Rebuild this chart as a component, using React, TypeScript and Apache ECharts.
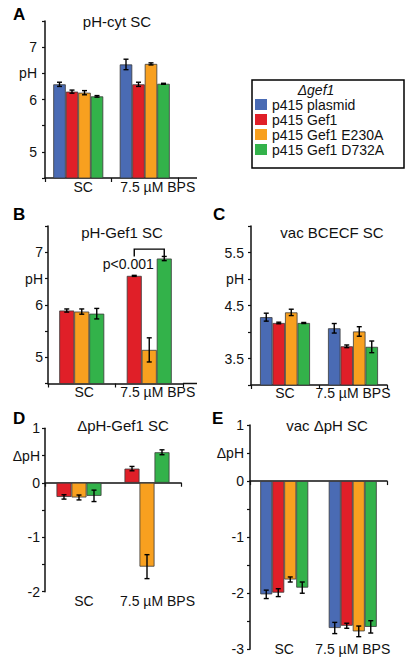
import React, { useEffect, useRef } from 'react';
import * as echarts from 'echarts';

// ---------- data ----------
const categories = ['SC', '7.5 µM BPS'];
const strains = ['p415 plasmid', 'p415 Gef1', 'p415 Gef1 E230A', 'p415 Gef1 D732A'];
const legendTitle = 'Δgef1';

// A: pH-cyt SC
const cytPlasmid = [6.29, 6.67];
const cytPlasmidErr = [0.04, 0.1];
const cytGef1 = [6.15, 6.29];
const cytGef1Err = [0.03, 0.04];
const cytE230A = [6.13, 6.68];
const cytE230AErr = [0.04, 0.02];
const cytD732A = [6.06, 6.3];
const cytD732AErr = [0.015, 0.01];

// B: pH-Gef1 SC
const gefGef1 = [5.89, 6.55];
const gefGef1Err = [0.03, 0.01];
const gefE230A = [5.87, 5.14];
const gefE230AErr = [0.05, 0.23];
const gefD732A = [5.83, 6.88];
const gefD732AErr = [0.1, 0.04];
const sigText = 'p<0.001';
const sigTop = 7.06;
const sigLegBottom = 6.92;
const sigTextLevel = 6.78;

// C: vac BCECF SC
const vacPlasmid = [4.28, 4.07];
const vacPlasmidErr = [0.075, 0.09];
const vacGef1 = [4.17, 3.73];
const vacGef1Err = [0.015, 0.025];
const vacE230A = [4.37, 4.01];
const vacE230AErr = [0.06, 0.09];
const vacD732A = [4.17, 3.72];
const vacD732AErr = [0.01, 0.11];

// D: ΔpH-Gef1 SC
const dGef1 = [-0.26, 0.26];
const dGef1Err = [0.04, 0.04];
const dE230A = [-0.27, -1.54];
const dE230AErr = [0.045, 0.22];
const dD732A = [-0.24, 0.56];
const dD732AErr = [0.105, 0.045];

// E: vac ΔpH SC
const ePlasmid = [-2.02, -2.62];
const ePlasmidErr = [0.075, 0.1];
const eGef1 = [-1.99, -2.58];
const eGef1Err = [0.07, 0.045];
const eE230A = [-1.755, -2.68];
const eE230AErr = [0.045, 0.095];
const eD732A = [-1.9, -2.6];
const eD732AErr = [0.1, 0.11];

// tick labels
const yLabelsA: Record<string, string> = { '5': '5', '6': '6', '7': '7', '6.5': 'pH' };
const yLabelsB: Record<string, string> = { '5': '5', '6': '6', '7': '7', '6.5': 'pH' };
const yLabelsC: Record<string, string> = { '3.5': '3.5', '4.5': '4.5', '5.5': '5.5', '5': 'pH' };
const yLabelsD: Record<string, string> = { '1': '1', '0': '0', '-1': '-1', '-2': '-2', '0.5': 'ΔpH' };
const yLabelsE: Record<string, string> = { '1': '1', '0': '0', '-1': '-1', '-2': '-2', '-3': '-3', '0.5': 'ΔpH' };

const titles = ['pH-cyt SC', 'pH-Gef1 SC', 'vac BCECF SC', 'ΔpH-Gef1 SC', 'vac ΔpH SC'];
const letters = ['A', 'B', 'C', 'D', 'E'];

// ---------- styles / layout ----------
const colors = ['#4a6bb4', '#e01f28', '#f8a01f', '#33b24a'];
const FONT = 'Arial, "Liberation Sans", Helvetica, sans-serif';
const INK = '#111';

const panels = [
  {
    grid: { left: 45, top: 21, width: 133, height: 157 },
    yMin: 4.5, yMax: 7.5, yLabels: yLabelsA, yMargin: 8,
    strainIdx: [0, 1, 2, 3],
    means: [cytPlasmid, cytGef1, cytE230A, cytD732A],
    errs: [cytPlasmidErr, cytGef1Err, cytE230AErr, cytD732AErr],
    barW: 12.5, pad: [10, 26], zero: false, labelMargin: 2, labelVA: 'top',
    extendTo: 197,
    title: [117, 21], letter: [13, 14],
  },
  {
    grid: { left: 48, top: 226, width: 135, height: 157.5 },
    yMin: 4.5, yMax: 7.5, yLabels: yLabelsB, yMargin: 5,
    strainIdx: [1, 2, 3],
    means: [gefGef1, gefE230A, gefD732A],
    errs: [gefGef1Err, gefE230AErr, gefD732AErr],
    barW: 15, pad: [5, 17], zero: false, labelMargin: 1, labelVA: 'top',
    extendTo: 197,
    title: [122, 232], letter: [13, 214],
  },
  {
    grid: { left: 251, top: 226, width: 136, height: 159 },
    yMin: 3, yMax: 6, yLabels: yLabelsC, yMargin: 7,
    strainIdx: [0, 1, 2, 3],
    means: [vacPlasmid, vacGef1, vacE230A, vacD732A],
    errs: [vacPlasmidErr, vacGef1Err, vacE230AErr, vacD732AErr],
    barW: 12.5, pad: [0, 0], zero: false, labelMargin: 1, labelVA: 'top',
    extendTo: 0,
    title: [332, 232], letter: [213, 214],
  },
  {
    grid: { left: 45, top: 428.3, width: 136, height: 163.4 },
    yMin: -2, yMax: 1, yLabels: yLabelsD, yMargin: 5,
    strainIdx: [1, 2, 3],
    means: [dGef1, dE230A, dD732A],
    errs: [dGef1Err, dE230AErr, dD732AErr],
    barW: 15, pad: [10, 21], zero: true, labelMargin: 2, labelVA: 'top',
    extendTo: 0,
    title: [123, 425], letter: [13, 418],
  },
  {
    grid: { left: 250, top: 425, width: 137, height: 224.3 },
    yMin: -3, yMax: 1, yLabels: yLabelsE, yMargin: 6,
    strainIdx: [0, 1, 2, 3],
    means: [ePlasmid, eGef1, eE230A, eD732A],
    errs: [ePlasmidErr, eGef1Err, eE230AErr, eD732AErr],
    barW: 12, pad: [0, 0], zero: true, labelMargin: 0, labelVA: 'middle',
    extendTo: 0,
    title: [327, 425], letter: [212, 418],
  },
];

function catLabel(p: any) {
  const base = { fontSize: 14, fontFamily: FONT, color: INK };
  return {
    show: true,
    interval: 0,
    margin: p.labelMargin,
    verticalAlign: p.labelVA,
    ...base,
    formatter: (v: string, i: number) => `{c${i}|${v}}`,
    rich: {
      c0: { ...base, padding: [0, 0, 0, p.pad[0]] },
      c1: { ...base, padding: [0, 0, 0, p.pad[1]] },
    },
  };
}

function buildOption() {
  const grids: any[] = [];
  const xAxes: any[] = [];
  const yAxes: any[] = [];
  const series: any[] = [];
  const graphics: any[] = [];

  panels.forEach((p, gi) => {
    grids.push({ ...p.grid, containLabel: false });
    const mainX = xAxes.length;
    xAxes.push({
      type: 'category',
      gridIndex: gi,
      data: categories,
      axisLine: { show: true, onZero: p.zero, lineStyle: { color: INK, width: 1.5 } },
      axisTick: { show: true, length: 4, lineStyle: { color: INK, width: 1.2 } },
      axisLabel: p.zero ? { show: false } : catLabel(p),
      splitLine: { show: false },
    });
    if (p.zero) {
      xAxes.push({
        type: 'category',
        gridIndex: gi,
        data: categories,
        position: 'bottom',
        axisLine: { show: false, onZero: false },
        axisTick: { show: false },
        axisLabel: catLabel(p),
        splitLine: { show: false },
      });
    }
    yAxes.push({
      type: 'value',
      gridIndex: gi,
      min: p.yMin,
      max: p.yMax,
      interval: 0.5,
      axisLine: { show: true, lineStyle: { color: INK, width: 1.5 } },
      axisTick: { show: true, length: 3, lineStyle: { color: INK, width: 1.2 } },
      splitLine: { show: false },
      axisLabel: {
        margin: p.yMargin,
        fontSize: 14,
        fontFamily: FONT,
        color: INK,
        formatter: (v: number) => {
          const k = String(Math.round(v * 10) / 10);
          return p.yLabels[k] ?? '';
        },
      },
    });

    const n = p.strainIdx.length;
    p.strainIdx.forEach((s, i) => {
      series.push({
        type: 'bar',
        name: strains[s],
        xAxisIndex: mainX,
        yAxisIndex: gi,
        data: p.means[i],
        barWidth: p.barW,
        barGap: '0%',
        itemStyle: { color: colors[s], borderColor: '#3a3a3a', borderWidth: 0.8 },
        z: 2,
      });
      const offset = (i - (n - 1) / 2) * p.barW;
      series.push({
        type: 'custom',
        name: 'err-' + gi + '-' + s,
        xAxisIndex: mainX,
        yAxisIndex: gi,
        encode: { x: 0, y: 1 },
        silent: true,
        z: 5,
        data: categories.map((_, k) => [k, p.means[i][k], p.errs[i][k]]),
        renderItem: (_params: any, api: any) => {
          const c = api.value(0);
          const m = api.value(1);
          const e = api.value(2);
          const top = api.coord([c, m + e]);
          const bot = api.coord([c, m - e]);
          const x = top[0] + offset;
          const cw = 2.5;
          const st = { stroke: '#000', lineWidth: 1.4 };
          return {
            type: 'group',
            children: [
              { type: 'line', shape: { x1: x, y1: top[1], x2: x, y2: bot[1] }, style: st },
              { type: 'line', shape: { x1: x - cw, y1: top[1], x2: x + cw, y2: top[1] }, style: st },
              { type: 'line', shape: { x1: x - cw, y1: bot[1], x2: x + cw, y2: bot[1] }, style: st },
            ],
          };
        },
      });
    });

    if (gi === 1) {
      const bw = p.barW;
      series.push({
        type: 'custom',
        name: 'significance',
        xAxisIndex: mainX,
        yAxisIndex: gi,
        encode: { x: 0, y: 1 },
        silent: true,
        z: 6,
        data: [[1, sigTop, sigLegBottom, sigTextLevel]],
        renderItem: (_params: any, api: any) => {
          const c = api.value(0);
          const t = api.coord([c, api.value(1)]);
          const b = api.coord([c, api.value(2)]);
          const tx = api.coord([c, api.value(3)]);
          const lx = t[0] - bw;
          const rx = t[0] + bw;
          return {
            type: 'group',
            children: [
              {
                type: 'polyline',
                shape: { points: [[lx, b[1]], [lx, t[1]], [rx, t[1]], [rx, b[1]]] },
                style: { stroke: '#000', lineWidth: 1.4, fill: null },
              },
              {
                type: 'text',
                x: lx - 6,
                y: tx[1],
                style: {
                  text: sigText,
                  fill: INK,
                  font: `14px ${FONT}`,
                  align: 'center',
                  verticalAlign: 'middle',
                },
              },
            ],
          };
        },
      });
    }

    // titles & letters
    graphics.push({
      type: 'text',
      x: p.title[0],
      y: p.title[1],
      style: { text: titles[gi], fill: INK, font: `15px ${FONT}`, align: 'center', verticalAlign: 'middle' },
    });
    graphics.push({
      type: 'text',
      x: p.letter[0],
      y: p.letter[1],
      style: { text: letters[gi], fill: '#000', font: `bold 17px ${FONT}`, align: 'left', verticalAlign: 'middle' },
    });
    if (p.extendTo) {
      const y = p.grid.top + p.grid.height;
      const x1 = p.grid.left + p.grid.width;
      graphics.push({
        type: 'line',
        shape: { x1, y1: y, x2: p.extendTo, y2: y },
        style: { stroke: INK, lineWidth: 1.5 },
      });
    }
  });

  // legend box
  graphics.push({
    type: 'rect',
    shape: { x: 252, y: 80, width: 152, height: 88 },
    style: { stroke: '#000', lineWidth: 1.5, fill: 'none' },
  });
  graphics.push({
    type: 'text',
    x: 316,
    y: 89.5,
    style: { text: legendTitle, fill: INK, font: `italic 14px ${FONT}`, align: 'center', verticalAlign: 'middle' },
  });

  return {
    animation: false,
    backgroundColor: '#fff',
    grid: grids,
    xAxis: xAxes,
    yAxis: yAxes,
    series,
    graphic: graphics,
    legend: {
      show: true,
      orient: 'vertical',
      left: 255,
      top: 97.5,
      padding: 0,
      itemWidth: 12,
      itemHeight: 11,
      itemGap: 1,
      icon: 'rect',
      selectedMode: false,
      textStyle: { fontSize: 14, color: INK, fontFamily: FONT },
      data: strains.map((name) => ({ name, itemStyle: { borderWidth: 0 } })),
    },
  };
}

export default function App() {
  const ref = useRef<HTMLDivElement>(null);
  useEffect(() => {
    if (!ref.current) return;
    const chart = echarts.init(ref.current, undefined, { renderer: 'svg' });
    chart.setOption(buildOption() as any);
    return () => chart.dispose();
  }, []);
  return (
    <div
      ref={ref}
      style={{ position: 'fixed', left: 0, top: 0, width: 414, height: 663, background: '#fff' }}
    />
  );
}
